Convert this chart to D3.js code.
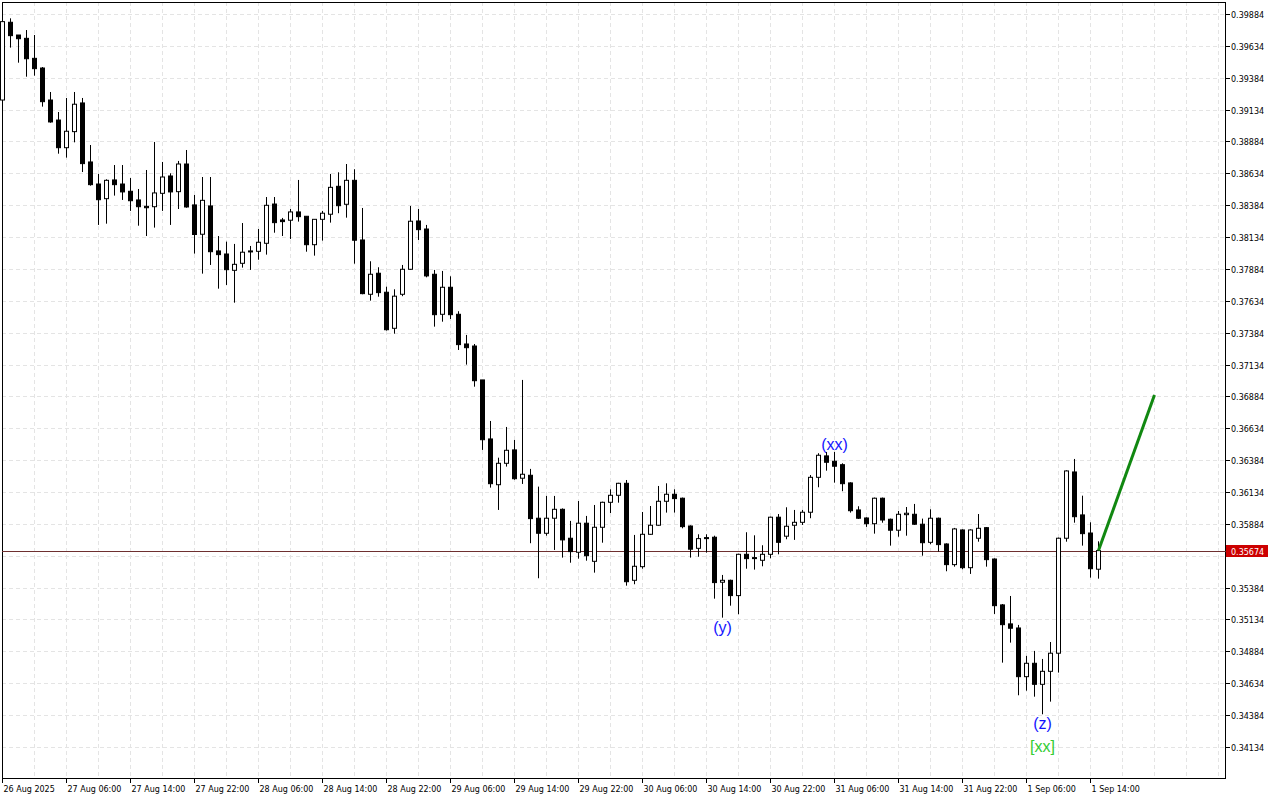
<!DOCTYPE html>
<html><head><meta charset="utf-8">
<script src="https://cdn.jsdelivr.net/npm/d3@7"></script>
<style>body{margin:0;background:#fff}svg{display:block}</style>
</head><body><div id="container"></div>
<script>
// hourly bars from 26 Aug 22:00
const open  = [0.39209,0.39819,0.39719,0.39693,0.39536,0.39460,0.39209,0.39052,0.38835,0.38961,0.39186,0.38723,0.38550,0.38435,0.38582,0.38550,0.38493,0.38425,0.38375,0.38372,0.38477,0.38613,0.38490,0.38707,0.38386,0.38156,0.38378,0.38025,0.38001,0.37873,0.37928,0.38025,0.38022,0.38085,0.38393,0.38268,0.38266,0.38331,0.38297,0.38074,0.38273,0.38313,0.38532,0.38391,0.38579,0.38111,0.37685,0.37850,0.37701,0.37418,0.37685,0.37881,0.38260,0.38197,0.37842,0.37528,0.37740,0.37528,0.37295,0.37279,0.37013,0.36550,0.36191,0.36359,0.36464,0.36242,0.36265,0.35928,0.35810,0.35928,0.35998,0.35771,0.35661,0.35889,0.35590,0.35857,0.36053,0.36108,0.36202,0.35441,0.35548,0.35802,0.35873,0.36061,0.36116,0.36085,0.35867,0.35692,0.35776,0.35779,0.35426,0.35441,0.35321,0.35645,0.35619,0.35598,0.35645,0.35936,0.35787,0.35873,0.35896,0.35975,0.36249,0.36417,0.36375,0.36348,0.36205,0.35993,0.35930,0.35885,0.36085,0.35920,0.35834,0.35956,0.35959,0.35881,0.35739,0.35928,0.35726,0.35564,0.35836,0.35540,0.35771,0.35854,0.35608,0.35248,0.35099,0.35067,0.34685,0.34790,0.34625,0.34727,0.34869,0.35771,0.36291,0.35954,0.35812,0.35528];
const high  = [0.39830,0.39850,0.39719,0.39758,0.39719,0.39468,0.39272,0.39115,0.39225,0.39272,0.39225,0.38856,0.38629,0.38587,0.38699,0.38699,0.38597,0.38511,0.38660,0.38880,0.38723,0.38634,0.38731,0.38817,0.38464,0.38605,0.38605,0.38142,0.38098,0.38080,0.38244,0.38064,0.38197,0.38448,0.38448,0.38284,0.38354,0.38582,0.38297,0.38273,0.38339,0.38629,0.38642,0.38707,0.38666,0.38362,0.37944,0.37897,0.37745,0.37724,0.37915,0.38378,0.38354,0.38229,0.37876,0.37868,0.37826,0.37552,0.37366,0.37295,0.37013,0.36691,0.36403,0.36644,0.36542,0.37013,0.36315,0.36176,0.36103,0.36103,0.36005,0.35907,0.36063,0.35946,0.36032,0.36058,0.36155,0.36206,0.36228,0.35797,0.35977,0.36024,0.36181,0.36202,0.36155,0.36090,0.35872,0.35802,0.35802,0.35791,0.35483,0.35446,0.35650,0.35818,0.35794,0.35716,0.35940,0.35961,0.36014,0.35993,0.35993,0.36267,0.36438,0.36448,0.36448,0.36359,0.36210,0.36022,0.35935,0.36090,0.36090,0.35925,0.35985,0.36016,0.36040,0.35925,0.35998,0.35933,0.35731,0.35852,0.35841,0.35841,0.35961,0.35859,0.35613,0.35255,0.35318,0.35091,0.34848,0.34887,0.34824,0.34957,0.35776,0.36304,0.36393,0.36105,0.35896,0.35747];
const low   = [0.39200,0.39620,0.39502,0.39392,0.39400,0.39157,0.39031,0.38788,0.38757,0.38877,0.38644,0.38537,0.38229,0.38239,0.38459,0.38425,0.38339,0.38223,0.38142,0.38208,0.38339,0.38229,0.38354,0.38364,0.38004,0.37847,0.37915,0.37729,0.37758,0.37619,0.37894,0.37876,0.37956,0.37996,0.38168,0.38142,0.38119,0.38255,0.38019,0.37988,0.38106,0.38247,0.38321,0.38286,0.37925,0.37685,0.37635,0.37666,0.37400,0.37376,0.37670,0.37876,0.38111,0.37818,0.37431,0.37470,0.37491,0.37248,0.37133,0.36960,0.36464,0.36168,0.35993,0.36333,0.36230,0.36197,0.35732,0.35457,0.35791,0.35679,0.35619,0.35579,0.35611,0.35595,0.35501,0.35736,0.35969,0.36050,0.35399,0.35410,0.35532,0.35798,0.35869,0.35972,0.35972,0.35849,0.35619,0.35626,0.35658,0.35297,0.35148,0.35242,0.35175,0.35532,0.35525,0.35551,0.35614,0.35645,0.35763,0.35758,0.35875,0.35928,0.36171,0.36301,0.36207,0.36140,0.35972,0.35922,0.35860,0.35807,0.35893,0.35713,0.35783,0.35791,0.35876,0.35634,0.35724,0.35666,0.35512,0.35548,0.35528,0.35491,0.35744,0.35548,0.35177,0.34795,0.34952,0.34539,0.34575,0.34528,0.34390,0.34489,0.34717,0.35744,0.35893,0.35713,0.35462,0.35454];
const close = [0.39824,0.39714,0.39690,0.39533,0.39455,0.39196,0.39037,0.38835,0.38964,0.39176,0.38710,0.38545,0.38427,0.38579,0.38545,0.38488,0.38419,0.38372,0.38364,0.38480,0.38605,0.38488,0.38707,0.38370,0.38154,0.38422,0.38019,0.37996,0.37878,0.37920,0.38015,0.38020,0.38093,0.38383,0.38247,0.38255,0.38331,0.38294,0.38074,0.38273,0.38321,0.38524,0.38380,0.38579,0.38109,0.37690,0.37842,0.37698,0.37407,0.37670,0.37881,0.38258,0.38192,0.37829,0.37525,0.37740,0.37525,0.37290,0.37266,0.37007,0.36544,0.36199,0.36359,0.36461,0.36238,0.36273,0.35925,0.35810,0.35928,0.35998,0.35758,0.35666,0.35889,0.35634,0.35857,0.36053,0.36108,0.36202,0.35430,0.35551,0.35802,0.35873,0.36061,0.36116,0.36082,0.35862,0.35685,0.35768,0.35768,0.35423,0.35441,0.35321,0.35645,0.35611,0.35614,0.35645,0.35936,0.35739,0.35865,0.35896,0.35975,0.36249,0.36422,0.36367,0.36336,0.36199,0.35987,0.35928,0.35885,0.36085,0.35914,0.35834,0.35959,0.35967,0.35881,0.35736,0.35928,0.35721,0.35564,0.35844,0.35540,0.35836,0.35849,0.35603,0.35242,0.35093,0.35065,0.34685,0.34790,0.34625,0.34727,0.34869,0.35771,0.36299,0.35940,0.35807,0.35532,0.35674];

const priceTicks = d3.range(24).map(i => 0.39884 - i * 0.0025);
const timeLabels = ['26 Aug 2025','27 Aug 06:00','27 Aug 14:00','27 Aug 22:00','28 Aug 06:00','28 Aug 14:00','28 Aug 22:00','29 Aug 06:00','29 Aug 14:00','29 Aug 22:00','30 Aug 06:00','30 Aug 14:00','30 Aug 22:00','31 Aug 06:00','31 Aug 14:00','31 Aug 22:00','1 Sep 06:00','1 Sep 14:00'];
const lastPrice = 0.35674;
const waveLabels = [
  {bar: 90, price: 0.35148, text: '(y)', color: '#1414ff', dy: 15},
  {bar: 104, price: 0.36448, text: '(xx)', color: '#1414ff', dy: -2},
  {bar: 130, price: 0.34390, text: '(z)', color: '#1414ff', dy: 15},
  {bar: 130, price: 0.34390, text: '[xx]', color: '#33cc33', dy: 38}
];
const projection = [{bar: 137, price: 0.35674}, {bar: 144, price: 0.36895}];

const W = 1280, H = 800, L = 2, R = 1226, T = 2, B = 778;
const svg = d3.select('#container').append('svg').attr('width', W).attr('height', H)
  .style('font-family', 'DejaVu Sans').style('font-size', '8px');

const x = d3.scaleLinear().domain([-0.0625, 152.94]).range([L, R]);
const y = d3.scaleLinear().domain([0.33890, 0.39978]).range([B, T]);

// grid
const g = svg.append('g').attr('stroke', '#e4e4e4').attr('stroke-dasharray', '4,3');
g.selectAll('.hg').data(priceTicks).join('line')
  .attr('x1', L).attr('x2', R).attr('y1', d => Math.round(y(d)) + 0.5).attr('y2', d => Math.round(y(d)) + 0.5);
g.selectAll('.vg').data(d3.range(4, 153, 4)).join('line')
  .attr('y1', T).attr('y2', B).attr('x1', d => Math.round(x(d)) + 0.5).attr('x2', d => Math.round(x(d)) + 0.5);

// frame
svg.append('rect').attr('x', L + 0.5).attr('y', T + 0.5).attr('width', R - L - 1).attr('height', B - T)
  .attr('fill', 'none').attr('stroke', '#000');

const ly = Math.round(y(lastPrice)) + 0.5;

// price axis (skip the label hidden under the last-price tag)
const ya = svg.append('g');
priceTicks.forEach(p => {
  const yy = Math.round(y(p)) + 0.5;
  ya.append('line').attr('x1', R).attr('x2', R + 4).attr('y1', yy).attr('y2', yy).attr('stroke', '#000');
  if (Math.abs(yy - ly) > 10) ya.append('text').attr('x', R + 5).attr('y', yy + 3).text(p.toFixed(5));
});
// time axis
timeLabels.forEach((t, i) => {
  const xx = Math.round(x(i * 8)) + 0.5;
  svg.append('line').attr('x1', xx).attr('x2', xx).attr('y1', B).attr('y2', B + 5).attr('stroke', '#000');
  svg.append('text').attr('x', xx + 1).attr('y', B + 14).text(t);
});

// last price line
svg.append('line').attr('x1', L).attr('x2', R).attr('y1', ly).attr('y2', ly).attr('stroke', '#6e3030');

// candles
const bars = svg.append('g');
close.forEach((c, i) => {
  const cx = Math.round(x(i)) + 0.5, o = open[i];
  bars.append('line').attr('x1', cx).attr('x2', cx).attr('y1', y(high[i])).attr('y2', y(low[i])).attr('stroke', '#000');
  const top = y(Math.max(o, c)), bot = y(Math.min(o, c));
  bars.append('rect').attr('x', cx - 2).attr('y', top).attr('width', 4).attr('height', Math.max(bot - top, 1))
    .attr('fill', c >= o ? '#fff' : '#000').attr('stroke', '#000');
});

// projection
svg.append('path').datum(projection)
  .attr('d', d3.line().x(d => x(d.bar)).y(d => y(d.price)))
  .attr('stroke', '#118811').attr('stroke-width', 3).attr('fill', 'none');

// wave labels
waveLabels.forEach(w => {
  svg.append('text').attr('x', x(w.bar)).attr('y', y(w.price) + w.dy).attr('text-anchor', 'middle')
    .attr('fill', w.color).style('font-family', 'Liberation Sans').style('font-size', '16px').text(w.text);
});

// last price tag
svg.append('rect').attr('x', R).attr('y', ly - 6.5).attr('width', 42).attr('height', 12).attr('fill', '#cc0000');
svg.append('text').attr('x', R + 5).attr('y', ly + 3).attr('fill', '#fff').text(lastPrice.toFixed(5));
</script></body></html>
